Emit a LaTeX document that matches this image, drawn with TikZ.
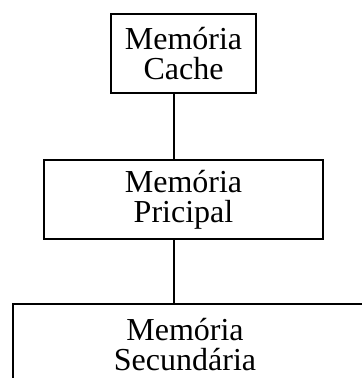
\documentclass[tikz,border=0pt]{standalone}
\usepackage{fontspec}
\setmainfont{Liberation Serif}
\begin{document}
\begin{tikzpicture}[x=0.5pt,y=-0.5pt,
	membox/.style={draw,line width=0.9pt,align=center,inner sep=0pt,font=\fontsize{16}{15}\selectfont},
	memtext/.style={align=center,inner sep=0pt,font=\fontsize{16}{15}\selectfont}]
	\useasboundingbox (0,0) rectangle (362,378);
	%boxes
	\node[membox,minimum width=72.5pt,minimum height=39.5pt] (cache) at (183.5,53.5) {Memória\\Cache};
	\node[membox,minimum width=139.5pt,minimum height=39.5pt] (main) at (183.5,199.5) {Memória\\Pricipal};
	\node[membox,anchor=north west,minimum width=200pt,minimum height=60pt] (sec) at (12,303) {};
	\node[memtext] (sectext) at (185,344.5) {Memória\\Secundária};
	%links
	\coordinate (joint) at (174,0);
	\draw[line width=0.9pt] (cache.south -| joint) -- (main.north -| joint);
	\draw[line width=0.9pt] (main.south -| joint) -- (sec.north -| joint);
\end{tikzpicture}
\end{document}
